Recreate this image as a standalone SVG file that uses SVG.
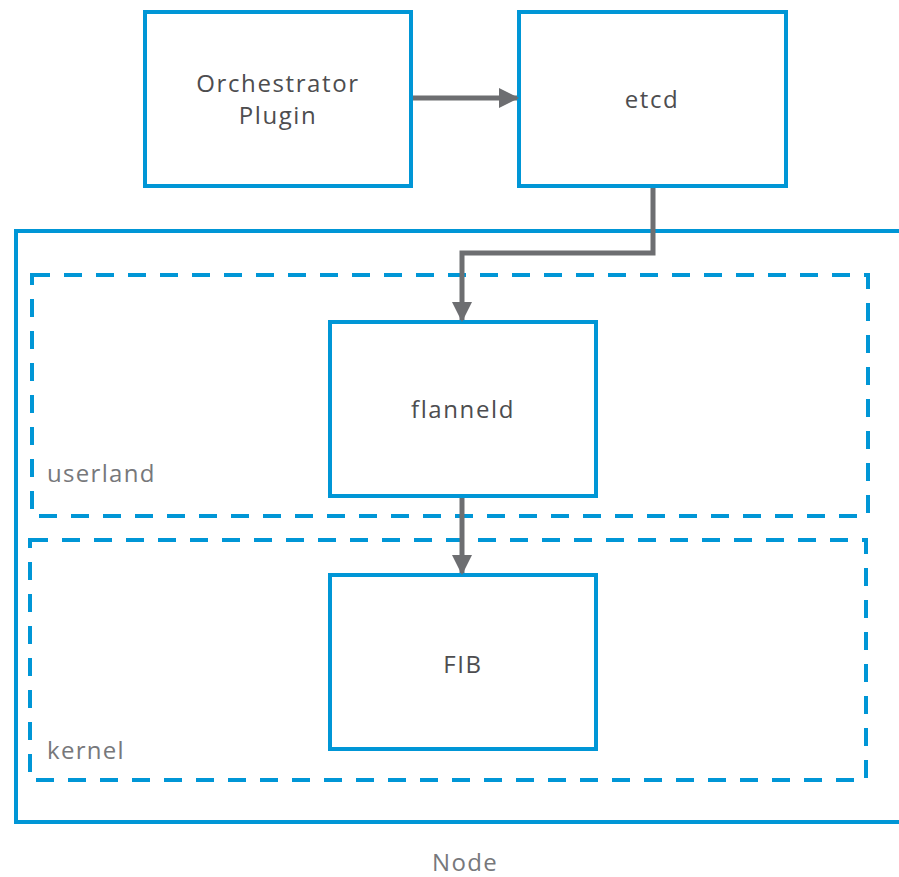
<svg xmlns="http://www.w3.org/2000/svg" width="899" height="877" viewBox="0 0 899 877">
<style>
.box{fill:#fff;stroke:#0096d6;stroke-width:4}
.dash{fill:none;stroke:#0096d6;stroke-width:4;stroke-dasharray:18 14}
.wire{fill:none;stroke:#6d6e71;stroke-width:5}
.t{font-family:"Open Sans","Noto Sans","Liberation Sans",sans-serif;font-size:24px;fill:#4d4d4f;text-anchor:middle;letter-spacing:1.6px}
.l{font-family:"Open Sans","Noto Sans","Liberation Sans",sans-serif;font-size:24px;fill:#77787b;letter-spacing:1.3px}
</style>
<defs>
<marker id="ah" markerWidth="4" markerHeight="4" refX="3.6" refY="2" orient="auto" markerUnits="strokeWidth">
<path d="M0,0 L4,2 L0,4 z" fill="#6d6e71"/>
</marker>
</defs>
<g id="node-group">
<path d="M899,231 H16 V822 H899" fill="none" stroke="#0096d6" stroke-width="4"/>
<text class="l" x="465" y="871" text-anchor="middle">Node</text>
</g>
<g id="userland">
<rect class="dash" x="32" y="275" width="836" height="241"/>
<text class="l" x="47" y="482">userland</text>
</g>
<g id="kernel">
<rect class="dash" x="30" y="540" width="836" height="240"/>
<text class="l" x="47" y="759">kernel</text>
</g>
<g id="orchestrator">
<rect class="box" x="145" y="12" width="266" height="174"/>
<text class="t" x="278" y="92">Orchestrator</text>
<text class="t" x="278" y="124">Plugin</text>
</g>
<g id="etcd">
<rect class="box" x="519" y="12" width="267" height="174"/>
<text class="t" x="652" y="108">etcd</text>
</g>
<g id="flanneld">
<rect class="box" x="330" y="322" width="266" height="174"/>
<text class="t" x="463" y="418">flanneld</text>
</g>
<g id="fib">
<rect class="box" x="330" y="575" width="266" height="174"/>
<text class="t" x="463" y="673">FIB</text>
</g>
<g id="connectors">
<path class="wire" d="M413,98 H517" marker-end="url(#ah)"/>
<path class="wire" d="M653,188 V253 H462 V320" marker-end="url(#ah)"/>
<path class="wire" d="M462,498 V573" marker-end="url(#ah)"/>
</g>
</svg>
